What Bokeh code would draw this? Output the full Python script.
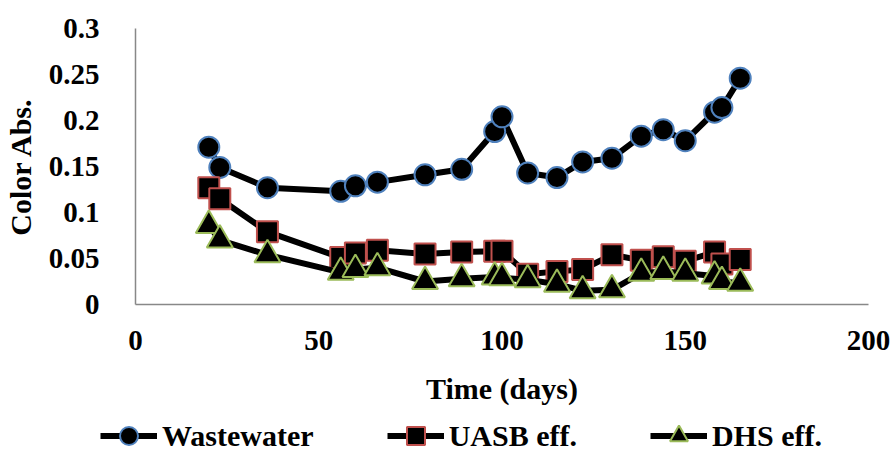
from bokeh.plotting import figure
from bokeh.models import Legend, LegendItem, ColumnDataSource, Range1d, FixedTicker, NumeralTickFormatter
from bokeh.embed import file_html
from bokeh.resources import INLINE

days = [20, 23, 36, 56, 60, 66, 79, 89, 98, 100, 107, 115, 122, 130, 138, 144, 150, 158, 160, 165]
wastewater = [0.171, 0.149, 0.127, 0.123, 0.129, 0.133, 0.141, 0.147, 0.188, 0.204,
              0.143, 0.138, 0.155, 0.159, 0.183, 0.190, 0.178, 0.209, 0.214, 0.246]
uasb = [0.127, 0.115, 0.079, 0.051, 0.056, 0.059, 0.055, 0.057, 0.058, 0.058,
        0.033, 0.036, 0.038, 0.054, 0.048, 0.052, 0.047, 0.057, 0.044, 0.049]
dhs = [0.086, 0.070, 0.054, 0.035, 0.038, 0.040, 0.025, 0.028, 0.030, 0.029,
       0.027, 0.022, 0.015, 0.016, 0.034, 0.036, 0.034, 0.031, 0.025, 0.023]

x_ticks = [0, 50, 100, 150, 200]
y_ticks = [0, 0.05, 0.1, 0.15, 0.2, 0.25, 0.3]

FONT = "Liberation Serif"

p = figure(width=896, height=414, output_backend="svg", toolbar_location=None,
           x_range=Range1d(0, 200), y_range=Range1d(0, 0.3),
           min_border_left=130, min_border_right=28, min_border_top=28, min_border_bottom=110)
p.outline_line_color = None
p.xgrid.visible = False
p.ygrid.visible = False
p.background_fill_color = "white"
p.border_fill_color = "white"

for ax in (p.xaxis[0], p.yaxis[0]):
    ax.axis_line_color = "#888888"
    ax.axis_line_width = 1.5
    ax.major_tick_line_color = None
    ax.minor_tick_line_color = None
    ax.major_label_text_font = FONT
    ax.major_label_text_font_style = "bold"
    ax.major_label_text_font_size = "29px"
    ax.major_label_text_color = "black"
    ax.axis_label_text_font = FONT
    ax.axis_label_text_font_style = "bold"
    ax.axis_label_text_font_size = "30px"
    ax.axis_label_text_color = "black"

p.xaxis.ticker = FixedTicker(ticks=x_ticks)
p.yaxis.ticker = FixedTicker(ticks=y_ticks)
p.yaxis.formatter = NumeralTickFormatter(format="0.[00]")
p.xaxis.axis_label = "Time (days)"
p.yaxis.axis_label = "Color Abs."
p.xaxis.major_label_standoff = 20
p.xaxis.axis_label_standoff = 19
p.yaxis.major_label_standoff = 30
p.yaxis.axis_label_standoff = 9

src = ColumnDataSource(dict(x=days, ww=wastewater, ua=uasb, dh=dhs))

series = [
    ("ww", "Wastewater", "circle", 21, "#4F81BD"),
    ("ua", "UASB eff.", "square", 21, "#C0504D"),
    ("dh", "DHS eff.", "triangle", 26, "#9BBB59"),
]

# legend strip: a second root placed under the chart; its renderers use the same
# data but a y-range where no point falls, so only the legend glyphs show
lp = figure(width=896, height=36, output_backend="svg", toolbar_location=None,
            x_range=Range1d(0, 200), y_range=Range1d(10, 11),
            x_axis_location=None, y_axis_location=None,
            min_border_left=0, min_border_right=0, min_border_top=0, min_border_bottom=0)
lp.outline_line_color = None
lp.xgrid.visible = False
lp.ygrid.visible = False
lp.background_fill_color = "white"
lp.border_fill_color = "white"

items = []
for col, label, marker, size, edge in series:
    p.line("x", col, source=src, line_color="black", line_width=6)
    p.scatter("x", col, source=src, marker=marker, size=size,
              fill_color="black", line_color=edge, line_width=2)
    ln = lp.line("x", col, source=src, line_color="black", line_width=6)
    sc = lp.scatter("x", col, source=src, marker=marker, size=size,
                    fill_color="black", line_color=edge, line_width=2)
    items.append(LegendItem(label=label, renderers=[ln, sc]))

legend = Legend(items=items, orientation="horizontal", location=(100, -8),
                label_text_font=FONT, label_text_font_style="bold",
                label_text_font_size="30px", label_text_color="black",
                glyph_width=57, glyph_height=45, label_standoff=5, spacing=73,
                border_line_color=None, background_fill_alpha=0,
                padding=0, margin=0)
lp.add_layout(legend, "center")

open("out.html", "w").write(file_html([p, lp], INLINE))
